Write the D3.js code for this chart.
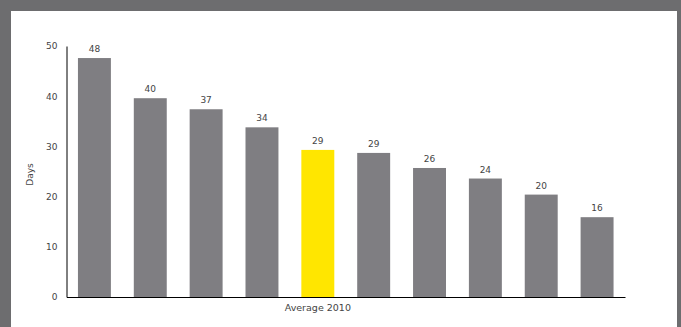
<!DOCTYPE html>
<html>
<head>
<meta charset="utf-8">
<script src="https://cdn.jsdelivr.net/npm/d3@7"></script>
<style>
  body { margin: 0; background: #6d6d6f; }
  svg { display: block; }
  text { font-family: "DejaVu Sans", Verdana, sans-serif; fill: #444; }
</style>
</head>
<body>
<svg width="681" height="327"></svg>
<script>
// bar order, left to right; the 5th one is the 2010 average
var categories = ["c1", "c2", "c3", "c4", "Average 2010", "c6", "c7", "c8", "c9", "c10"];
var values = [47.6, 39.6, 37.4, 33.8, 29.3, 28.7, 25.7, 23.6, 20.4, 15.9];
var yTicks = [0, 10, 20, 30, 40, 50];
var highlight = "Average 2010";

var svg = d3.select("svg");
var margin = { left: 66.5, right: 56, top: 46, bottom: 30 };
var W = 681, H = 327;

// white panel
svg.append("rect").attr("x", 11).attr("y", 11).attr("width", 666).attr("height", 316).attr("fill", "#fff");

var x = d3.scaleBand().domain(categories)
    .range([margin.left, W - margin.right])
    .paddingInner(0.41).paddingOuter(0.205);
var y = d3.scaleLinear().domain([0, 50]).range([H - margin.bottom, margin.top]);

svg.append("g")
    .selectAll("rect")
    .data(values)
    .join("rect")
    .attr("x", function (d, i) { return x(categories[i]); })
    .attr("y", function (d) { return y(d); })
    .attr("width", x.bandwidth())
    .attr("height", function (d) { return y(0) - y(d); })
    .attr("fill", function (d, i) { return categories[i] === highlight ? "#ffe600" : "#7f7e82"; });

svg.append("g")
    .selectAll("text")
    .data(values)
    .join("text")
    .attr("x", function (d, i) { return x(categories[i]) + x.bandwidth() / 2; })
    .attr("y", function (d) { return y(d) - 6; })
    .attr("text-anchor", "middle")
    .style("font-size", "9px")
    .text(function (d) { return d3.format(".0f")(d); });

// y axis: line plus plain tick labels
var yAxis = svg.append("g").attr("transform", "translate(" + margin.left + ",0)")
    .call(d3.axisLeft(y).tickValues(yTicks).tickSize(0).tickPadding(9));
yAxis.select(".domain").attr("stroke", "#000");
yAxis.selectAll("text").style("font-size", "9px").attr("fill", "#444");

// x axis baseline, only the highlighted label shown
var xAxis = svg.append("g").attr("transform", "translate(0," + y(0) + ")")
    .call(d3.axisBottom(x).tickSize(0).tickPadding(7).tickFormat(function (d) { return d === highlight ? d : ""; }));
xAxis.select(".domain").attr("stroke", "#000");
xAxis.selectAll("text").style("font-size", "9.5px").attr("fill", "#444");

svg.append("text")
    .attr("transform", "translate(33," + (y(25) + 3) + ") rotate(-90)")
    .attr("text-anchor", "middle")
    .style("font-size", "9px")
    .text("Days");
</script>
</body>
</html>
